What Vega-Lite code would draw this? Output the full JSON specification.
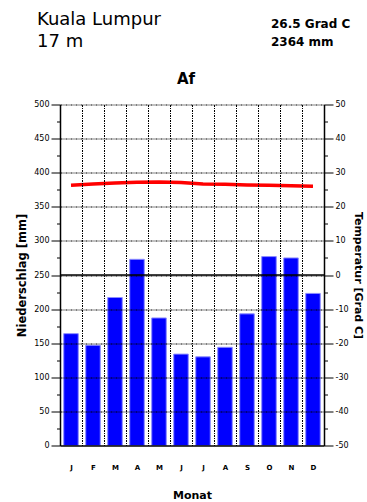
{
  "$schema": "https://vega.github.io/schema/vega-lite/v6.json",
  "padding": {"left": 16, "top": 10, "right": 2, "bottom": 4},
  "bounds": "flush",
  "spacing": 51.5,
  "config": {
    "font": "DejaVu Sans",
    "view": {"stroke": null},
    "axis": {"labelFont": "DejaVu Sans", "titleFont": "DejaVu Sans", "labelColor": "black", "titleColor": "black", "domainColor": "black", "tickColor": "black"},
    "title": {"font": "DejaVu Sans", "color": "black"}
  },
  "vconcat": [
    {
      "bounds": "flush",
      "spacing": 0,
      "hconcat": [
        {
          "width": 211, "height": 1,
          "title": {"text": ["Kuala Lumpur", "17 m"], "anchor": "start", "dx": -23, "offset": 0, "fontSize": 18, "fontWeight": "normal", "lineHeight": 22},
          "data": {"values": [{}]},
          "mark": {"type": "point", "opacity": 0},
          "encoding": {}
        },
        {
          "width": 80, "height": 1,
          "title": {"text": ["26.5 Grad C", "2364 mm"], "anchor": "start", "dx": 0, "offset": 2, "fontSize": 12, "fontWeight": "bold", "lineHeight": 18},
          "data": {"values": [{}]},
          "mark": {"type": "point", "opacity": 0},
          "encoding": {}
        }
      ]
    },
    {
      "width": 264,
      "height": 341,
      "title": {"text": "Af", "fontSize": 15, "fontWeight": "bold", "offset": 14, "anchor": "middle", "dx": -6},
      "data": {
        "values": [
          {"Monat": "Jan", "Niederschlag": 164, "Temperatur": 26.3},
          {"Monat": "Feb", "Niederschlag": 147, "Temperatur": 26.7},
          {"Monat": "Mär", "Niederschlag": 217, "Temperatur": 27.0},
          {"Monat": "Apr", "Niederschlag": 273, "Temperatur": 27.2},
          {"Monat": "Mai", "Niederschlag": 187, "Temperatur": 27.3},
          {"Monat": "Jun", "Niederschlag": 134, "Temperatur": 27.1},
          {"Monat": "Jul", "Niederschlag": 130, "Temperatur": 26.7},
          {"Monat": "Aug", "Niederschlag": 144, "Temperatur": 26.6},
          {"Monat": "Sep", "Niederschlag": 193, "Temperatur": 26.4},
          {"Monat": "Okt", "Niederschlag": 277, "Temperatur": 26.3},
          {"Monat": "Nov", "Niederschlag": 275, "Temperatur": 26.2},
          {"Monat": "Dez", "Niederschlag": 223, "Temperatur": 26.0}
        ]
      },
      "layer": [
        {
          "mark": {"type": "bar", "color": "#0000ff", "stroke": "#8c8cff", "strokeWidth": 1, "width": {"band": 0.66}},
          "encoding": {
            "x": {
              "field": "Monat", "type": "ordinal",
              "sort": ["Jan", "Feb", "Mär", "Apr", "Mai", "Jun", "Jul", "Aug", "Sep", "Okt", "Nov", "Dez"],
              "scale": {"paddingInner": 0, "paddingOuter": 0},
              "axis": {
                "title": "Monat", "titleFontSize": 11, "titleFontWeight": "bold", "titlePadding": 19,
                "labelExpr": "substring(datum.label, 0, 1)", "labelAngle": 0, "labelFontSize": 7, "labelFontWeight": "bold", "labelPadding": 18,
                "ticks": false, "tickSize": 0, "tickBand": "extent",
                "grid": true, "gridColor": "black", "gridDash": [2, 1, 1, 1], "gridWidth": 1, "gridOpacity": 1,
                "domainColor": "black", "domainWidth": 1.5, "zindex": 1
              }
            },
            "y": {
              "field": "Niederschlag", "type": "quantitative",
              "scale": {"domain": [0, 500], "nice": false},
              "axis": {
                "orient": "left", "title": "Niederschlag [mm]", "titleFontSize": 11.5, "titleFontWeight": "bold", "titlePadding": 6,
                "values": [0, 25, 50, 75, 100, 125, 150, 175, 200, 225, 250, 275, 300, 325, 350, 375, 400, 425, 450, 475, 500],
                "labelExpr": "datum.value % 50 === 0 ? '' + datum.value : ''",
                "labelFontSize": 8, "labelPadding": 2, "labelOverlap": false, "labelFlush": false,
                "tickSize": {"condition": {"test": "datum.value % 50 === 0", "value": 9}, "value": 3.5},
                "tickWidth": 1,
                "grid": true, "gridColor": "black", "gridDash": [2, 1, 1, 1], "gridWidth": 1,
                "gridOpacity": {"condition": {"test": "datum.value % 50 === 0 && datum.value > 0", "value": 1}, "value": 0},
                "domainColor": "black", "domainWidth": 1.5, "zindex": 1
              }
            }
          }
        },
        {
          "data": {"values": [{}]},
          "mark": {"type": "rule", "color": "black", "strokeWidth": 1.5},
          "encoding": {
            "y": {"datum": 250, "type": "quantitative", "scale": {"domain": [0, 500], "nice": false}, "axis": null}
          }
        },
        {
          "mark": {"type": "line", "color": "#ff0000", "strokeWidth": 3.5},
          "encoding": {
            "x": {
              "field": "Monat", "type": "ordinal",
              "sort": ["Jan", "Feb", "Mär", "Apr", "Mai", "Jun", "Jul", "Aug", "Sep", "Okt", "Nov", "Dez"]
            },
            "y": {
              "field": "Temperatur", "type": "quantitative",
              "scale": {"domain": [-50, 50], "nice": false, "zero": false},
              "axis": {
                "orient": "right", "title": "Temperatur [Grad C]", "titleFontSize": 11, "titleFontWeight": "bold", "titlePadding": 4,
                "values": [-50, -45, -40, -35, -30, -25, -20, -15, -10, -5, 0, 5, 10, 15, 20, 25, 30, 35, 40, 45, 50],
                "labelExpr": "datum.value % 10 === 0 ? '' + datum.value : ''",
                "labelFontSize": 8, "labelPadding": 2, "labelOverlap": false, "labelFlush": false,
                "tickSize": {"condition": {"test": "datum.value % 10 === 0", "value": 9}, "value": 3.5},
                "tickWidth": 1,
                "grid": false,
                "domainColor": "black", "domainWidth": 1.5
              }
            }
          }
        }
      ],
      "resolve": {"scale": {"y": "independent"}}
    }
  ]
}
